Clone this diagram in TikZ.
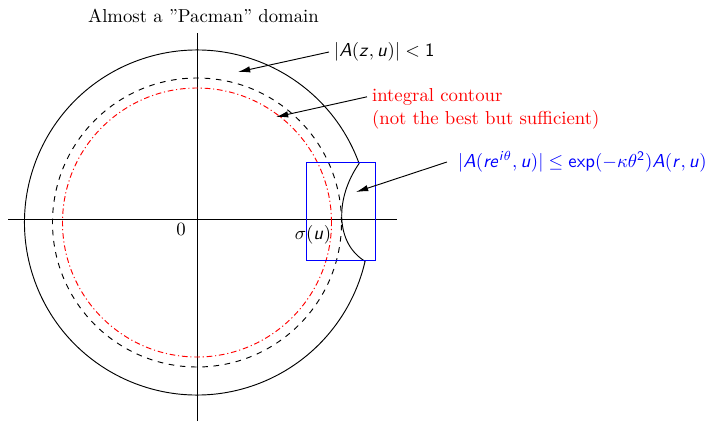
\documentclass[tikz,border=0pt]{standalone}
\usetikzlibrary{arrows.meta,calc}
\DeclareMathAlphabet{\mathsfit}{OT1}{cmss}{m}{sl}
\newcommand{\si}[1]{\mathsfit{#1}}
\begin{document}
\begin{tikzpicture}[x=0.5333pt,y=0.5333pt,
  axisline/.style={line width=0.4pt},
  arr/.style={-{Latex[length=6.5pt,width=3.4pt]}, line width=0.5pt},
  lbl/.style={inner sep=0pt, font=\fontsize{10}{12}\selectfont},
  dashdot/.style={red, dash pattern=on 3pt off 1.5pt on 0.6pt off 1.5pt}]
\useasboundingbox (0,0) rectangle (706,421);
\coordinate (c) at (197,198.5);
% axes
\coordinate (xl) at (8,202);
\coordinate (xr) at (397,202);
\coordinate (yt) at (197,388);
\coordinate (yb) at (197,0);
\draw[axisline] (xl) -- (xr);
\draw[axisline] (yb) -- (yt);
% pacman outer domain
\draw[line width=0.5pt] ($(c)+(20:172.5)$) arc[start angle=20,end angle=347,radius=172.5]
  .. controls (335,178) and (335,223) .. cycle;
% dashed and dash-dot circles
\draw[dashed, line width=0.5pt] (c) circle[radius=144.5];
\draw[dashdot, line width=0.5pt] (c) circle[radius=134.5];
% blue box
\draw[blue, line width=0.53pt] (306.5,160.5) rectangle (375.5,258.5);
% labels
\node[lbl, anchor=base] (title) at (203.5,398) {Almost a "Pacman" domain};
\node[lbl, anchor=west, outer xsep=2.7pt] (lA) at (329,369)
  {$|\si{A}(\si{z},\si{u})|<\mathsf{1}$};
\coordinate (tA) at (238,349);
\draw[arr] (lA.west) -- (tA);
\node[lbl, anchor=north west, red, outer xsep=2.7pt] (r1) at (367,333) {integral contour};
\node[lbl, anchor=north west, red, outer xsep=2.7pt] (r2) at (367,311) {(not the best but sufficient)};
\coordinate (tR) at (276,304);
\draw[arr] (r1.west) -- (tR);
\node[lbl, anchor=west, blue, outer xsep=5.9pt, font=\fontsize{9.8}{12}\selectfont] (lB) at (447,259)
  {$|\si{A}(\si{r}\si{e}^{\si{i}\theta},\si{u})|\le\mathsf{exp}(-\kappa\theta^{\mathsf{2}})\si{A}(\si{r},\si{u})$};
\coordinate (tB) at (356,229);
\draw[arr] (lB.west) -- (tB);
\node[lbl] (sig) at (313,186.5) {$\sigma(\si{u})$};
\node[lbl] (zero) at (181,192) {0};
\end{tikzpicture}
\end{document}
